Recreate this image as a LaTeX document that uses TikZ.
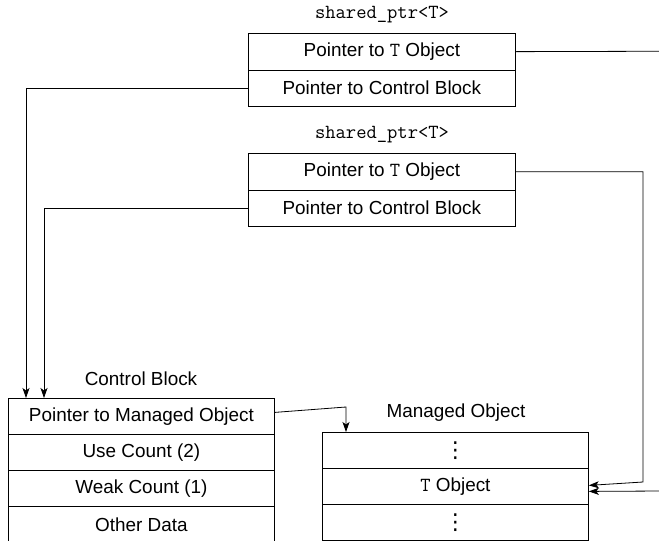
\documentclass[tikz,border=0pt]{standalone}
\usepackage{fontspec}
\setmainfont{Liberation Sans}
\newfontfamily\dejavu{DejaVu Sans}
\usetikzlibrary{arrows.meta,calc}
\newcommand{\mydots}{{\dejavu\fontsize{22}{22}\selectfont ⋮}}
\begin{document}
\begin{tikzpicture}[x=1pt,y=-1pt,
  cell/.style={draw, line width=0.8pt, minimum width=267pt, minimum height=36.5pt, inner sep=0pt, anchor=north west, font=\fontsize{18.9}{22}\selectfont},
  cellb/.style={cell, minimum width=266pt, minimum height=36pt},
  lab/.style={font=\fontsize{18.9}{22}\selectfont},
  monolab/.style={font=\fontsize{20}{22}\selectfont\ttfamily},
  conn/.style={line width=0.8pt},
  arr/.style={conn, -{Stealth[length=10pt,width=7pt,inset=2.5pt]}}]
\useasboundingbox (0,0) rectangle (659,541);
\clip (0,0) rectangle (659,541);
% shared_ptr 1
\node[monolab] (l1) at (382,15) {shared\_ptr<T>};
\node[cell] (s1p) at (248,33) {Pointer to {\fontsize{20}{22}\selectfont\ttfamily T} Object};
\node[cell] (s1c) at (248,69.5) {Pointer to Control Block};
% shared_ptr 2
\node[monolab] (l2) at (382,135) {shared\_ptr<T>};
\node[cell] (s2p) at (248,153) {Pointer to {\fontsize{20}{22}\selectfont\ttfamily T} Object};
\node[cell] (s2c) at (248,189.5) {Pointer to Control Block};
% control block
\node[lab] (lcb) at (141,379) {Control Block};
\node[cellb] (cb1) at (8,398) {Pointer to Managed Object};
\node[cellb] (cb2) at (8,434) {Use Count (2)};
\node[cellb] (cb3) at (8,470) {Weak Count (1)};
\node[cellb] (cb4) at (8,506) {Other Data};
% managed object
\node[lab] (lmo) at (456,413) {Managed Object};
\node[cellb] (mo1) at (322,432) {\mydots};
\node[cellb] (mo2) at (322,468) {{\fontsize{20}{22}\selectfont\ttfamily T} Object};
\node[cellb] (mo3) at (322,504) {\mydots};
% connectors
\coordinate (r1) at (662,51.25);
\coordinate (r2) at (662,491);
\coordinate (c2) at (643,482);
\coordinate (c3) at (346,407);
\draw[conn] (s1p.east) -- (r1);
\draw[arr] (r2) -- ([yshift=-5pt]mo2.east);
\draw[arr] (s1c.west) -| ([xshift=18pt]cb1.north west);
\draw[arr] (s2c.west) -| ([xshift=36pt]cb1.north west);
\draw[arr] (s2p.east) -| (c2) -- ([yshift=1pt]mo2.east);
\draw[arr] ([yshift=4pt]cb1.east) -- (c3) -- ([xshift=24pt]mo1.north west);
\end{tikzpicture}
\end{document}
